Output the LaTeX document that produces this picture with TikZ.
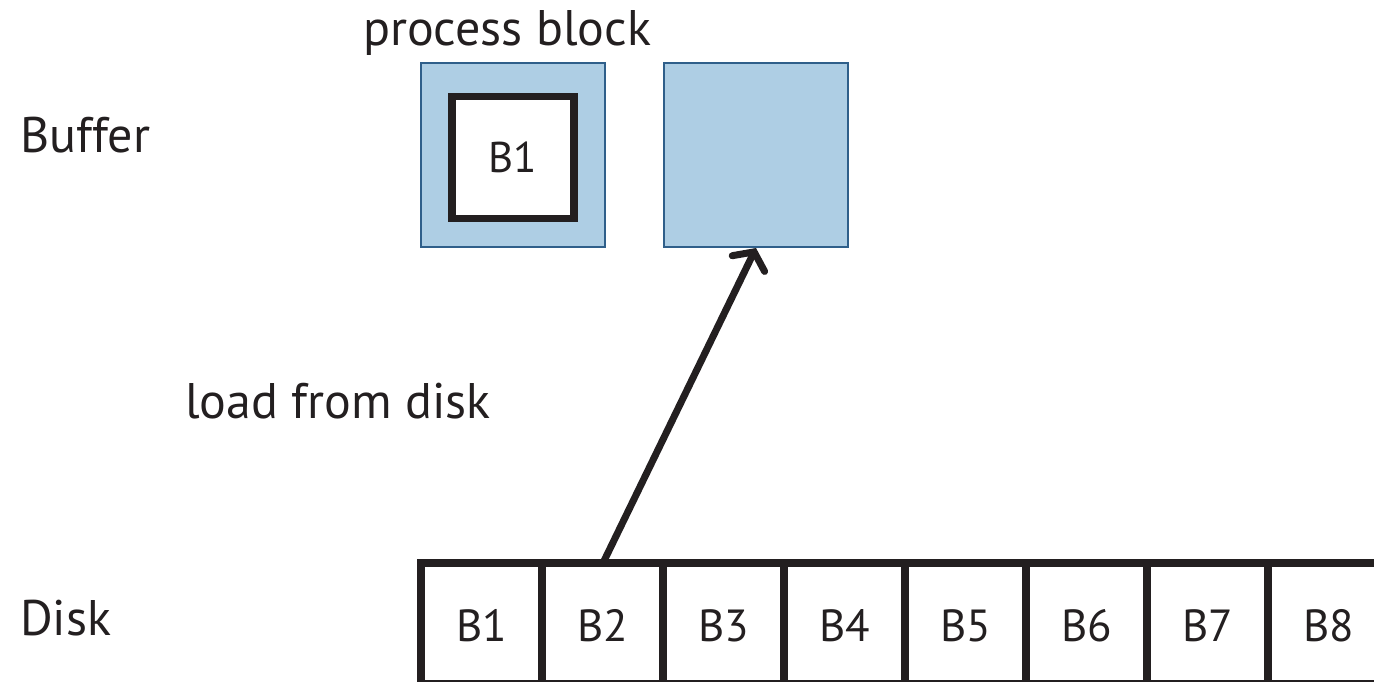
\documentclass[tikz,border=0pt]{standalone}
\usepackage{fontspec}
\setmainfont{PT Sans}
\usetikzlibrary{arrows.meta}
\definecolor{bufblue}{RGB}{174,206,228}
\definecolor{bufedge}{RGB}{47,95,138}
\definecolor{ink}{RGB}{35,31,32}
\begin{document}
\begin{tikzpicture}[x=1pt,y=-1pt,
  lbl/.style={font=\fontsize{50}{54}\selectfont, text=ink, inner sep=0pt},
  celltxt/.style={font=\fontsize{45}{48}\selectfont, text=ink, inner sep=0pt},
  bufbox/.style={draw=bufedge, fill=bufblue, line width=2pt, minimum width=184pt, minimum height=184pt, inner sep=0pt},
  cellbox/.style={draw=ink, line width=7.5pt, minimum width=121pt, minimum height=121pt, inner sep=0pt},
  loadarrow/.style={draw=ink, line width=7pt, line cap=round, -{Straight Barb[length=13pt,width=36pt,line cap=round]}}
]
\useasboundingbox (0,0) rectangle (1374,681);
\node[lbl, anchor=base west] (buflbl) at (20,152) {Buffer};
\node[lbl, anchor=base west] (disklbl) at (20,635) {Disk};
\node[lbl, anchor=base] (proc) at (507,45) {process block};
\node[lbl, anchor=base west] (load) at (185,418) {load from disk};
\node[bufbox] (buf1) at (513,155) {};
\node[bufbox] (buf2) at (756,155) {};
\node[draw=ink, fill=white, line width=7.5pt, minimum width=122pt, minimum height=122pt, inner sep=0pt,
  font=\fontsize{43}{46}\selectfont, text=ink] (inner) at (513,157.5) {B1};
\foreach \i in {1,...,8}{
  \node[cellbox] (c\i) at ({421+60.5+121*(\i-1)},623.5) {};
  \node[celltxt] at ({421+60.5+121*(\i-1)},626) {B\i};
}
\coordinate (tail) at (603,563);
\draw[loadarrow] (tail) -- (buf2.south);
\end{tikzpicture}
\end{document}
